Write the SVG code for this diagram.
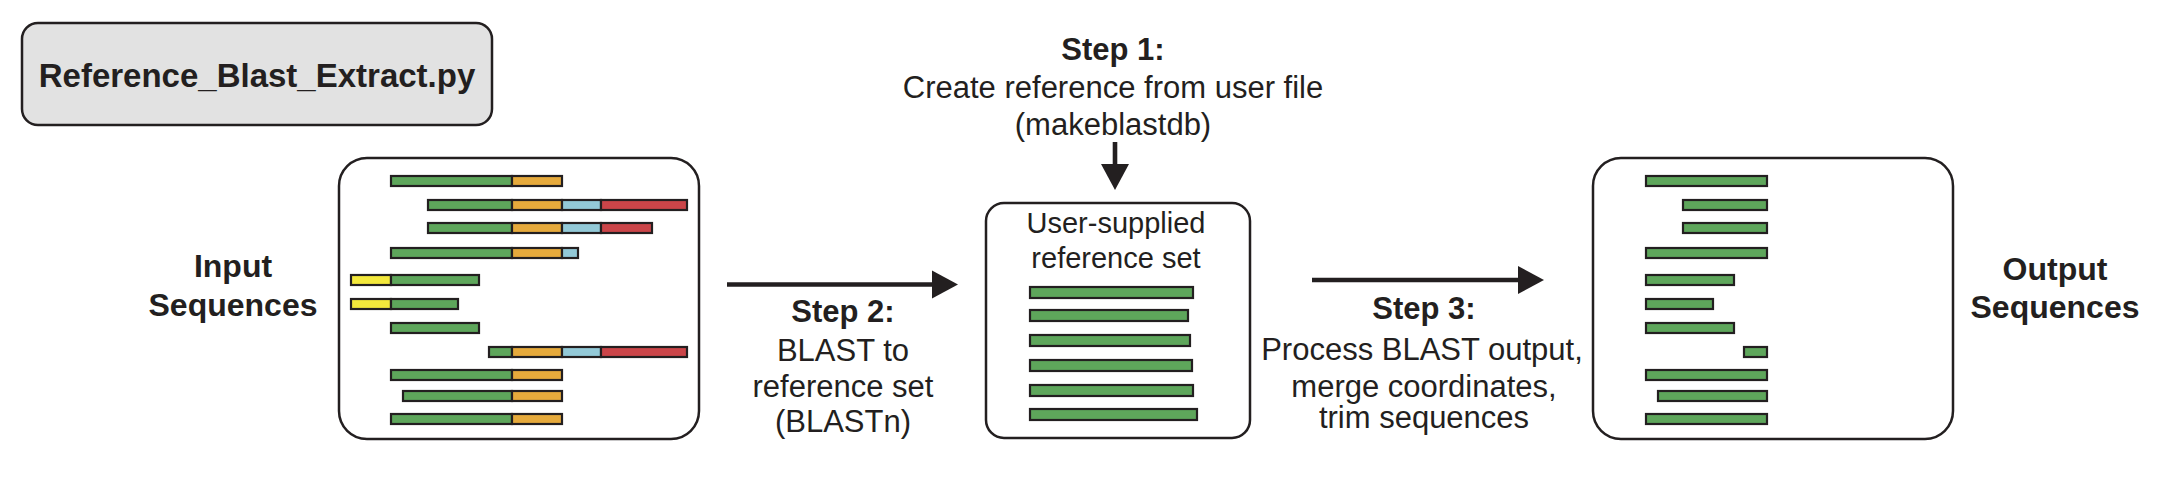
<svg xmlns="http://www.w3.org/2000/svg" width="2167" height="481" viewBox="0 0 2167 481">
<style>
.box{fill:#ffffff;stroke:#231f20;stroke-width:2.5}
.title{fill:#e2e2e2;stroke:#231f20;stroke-width:2.5}
.g{fill:#5ea65b;stroke:#231f20;stroke-width:2.2}
.o{fill:#e6aa3c;stroke:#231f20;stroke-width:2.2}
.b{fill:#93c9d7;stroke:#231f20;stroke-width:2.2}
.r{fill:#cb4549;stroke:#231f20;stroke-width:2.2}
.y{fill:#f3e83c;stroke:#231f20;stroke-width:2.2}
text{font-family:"Liberation Sans",Arial,sans-serif;fill:#231f20;text-anchor:middle}
.bold{font-weight:bold}
.t31{font-size:31px}
.t29{font-size:29px}
.t32{font-size:32px;font-weight:bold}
.conn{stroke:#231f20;stroke-width:4.6;fill:none}
</style>
<defs>
<marker id="ah" markerUnits="userSpaceOnUse" markerWidth="26" markerHeight="28" refX="0" refY="14" orient="auto" overflow="visible">
<path d="M0,0 L26,14 L0,28 Z" fill="#231f20"/>
</marker>
</defs>
<rect width="2167" height="481" fill="#ffffff"/>

<g id="title">
<rect class="title" x="22" y="23" width="470" height="102" rx="16"/>
<text class="bold" x="257" y="87" font-size="33">Reference_Blast_Extract.py</text>
</g>

<g id="input-label">
<text class="t32" x="233" y="277">Input</text>
<text class="t32" x="233" y="316">Sequences</text>
</g>

<g id="input">
<rect class="box" x="339" y="158" width="360" height="281" rx="28"/>
<rect class="g" x="391" y="176" width="121" height="10"/><rect class="o" x="512" y="176" width="50" height="10"/>
<rect class="g" x="428" y="200" width="84" height="10"/><rect class="o" x="512" y="200" width="50" height="10"/><rect class="b" x="562" y="200" width="39" height="10"/><rect class="r" x="601" y="200" width="86" height="10"/>
<rect class="g" x="428" y="223" width="84" height="10"/><rect class="o" x="512" y="223" width="50" height="10"/><rect class="b" x="562" y="223" width="39" height="10"/><rect class="r" x="601" y="223" width="51" height="10"/>
<rect class="g" x="391" y="248" width="121" height="10"/><rect class="o" x="512" y="248" width="50" height="10"/><rect class="b" x="562" y="248" width="16" height="10"/>
<rect class="y" x="351" y="275" width="40" height="10"/><rect class="g" x="391" y="275" width="88" height="10"/>
<rect class="y" x="351" y="299" width="40" height="10"/><rect class="g" x="391" y="299" width="67" height="10"/>
<rect class="g" x="391" y="323" width="88" height="10"/>
<rect class="g" x="489" y="347" width="23" height="10"/><rect class="o" x="512" y="347" width="50" height="10"/><rect class="b" x="562" y="347" width="39" height="10"/><rect class="r" x="601" y="347" width="86" height="10"/>
<rect class="g" x="391" y="370" width="121" height="10"/><rect class="o" x="512" y="370" width="50" height="10"/>
<rect class="g" x="403" y="391" width="109" height="10"/><rect class="o" x="512" y="391" width="50" height="10"/>
<rect class="g" x="391" y="414" width="121" height="10"/><rect class="o" x="512" y="414" width="50" height="10"/>
</g>

<g id="step1-label">
<text class="bold t31" x="1113" y="60">Step 1:</text>
<text class="t31" x="1113" y="98">Create reference from user file</text>
<text class="t31" x="1113" y="135">(makeblastdb)</text>
</g>

<g id="reference">
<rect class="box" x="986" y="203" width="264" height="235" rx="18"/>
<text class="t29" x="1116" y="233">User-supplied</text>
<text class="t29" x="1116" y="268">reference set</text>
<rect class="g" x="1030" y="287" width="163" height="11"/>
<rect class="g" x="1030" y="310" width="158" height="11"/>
<rect class="g" x="1030" y="335" width="160" height="11"/>
<rect class="g" x="1030" y="360" width="162" height="11"/>
<rect class="g" x="1030" y="385" width="163" height="11"/>
<rect class="g" x="1030" y="409" width="167" height="11"/>
</g>

<g id="step2-label">
<text class="bold t31" x="843" y="322">Step 2:</text>
<text class="t31" x="843" y="361">BLAST to</text>
<text class="t31" x="843" y="397">reference set</text>
<text class="t31" x="843" y="432">(BLASTn)</text>
</g>

<g id="step3-label">
<text class="bold t31" x="1424" y="319">Step 3:</text>
<text class="t31" x="1422" y="360">Process BLAST output,</text>
<text class="t31" x="1424" y="397">merge coordinates,</text>
<text class="t31" x="1424" y="428">trim sequences</text>
</g>

<g id="output">
<rect class="box" x="1593" y="158" width="360" height="281" rx="28"/>
<rect class="g" x="1646" y="176" width="121" height="10"/>
<rect class="g" x="1683" y="200" width="84" height="10"/>
<rect class="g" x="1683" y="223" width="84" height="10"/>
<rect class="g" x="1646" y="248" width="121" height="10"/>
<rect class="g" x="1646" y="275" width="88" height="10"/>
<rect class="g" x="1646" y="299" width="67" height="10"/>
<rect class="g" x="1646" y="323" width="88" height="10"/>
<rect class="g" x="1744" y="347" width="23" height="10"/>
<rect class="g" x="1646" y="370" width="121" height="10"/>
<rect class="g" x="1658" y="391" width="109" height="10"/>
<rect class="g" x="1646" y="414" width="121" height="10"/>
</g>

<g id="output-label">
<text class="t32" x="2055" y="280">Output</text>
<text class="t32" x="2055" y="318">Sequences</text>
</g>

<g id="connectors">
<line class="conn" x1="1115" y1="142" x2="1115" y2="164" marker-end="url(#ah)"/>
<line class="conn" x1="727" y1="284.5" x2="932" y2="284.5" marker-end="url(#ah)"/>
<line class="conn" x1="1312" y1="280" x2="1518" y2="280" marker-end="url(#ah)"/>
</g>
</svg>
